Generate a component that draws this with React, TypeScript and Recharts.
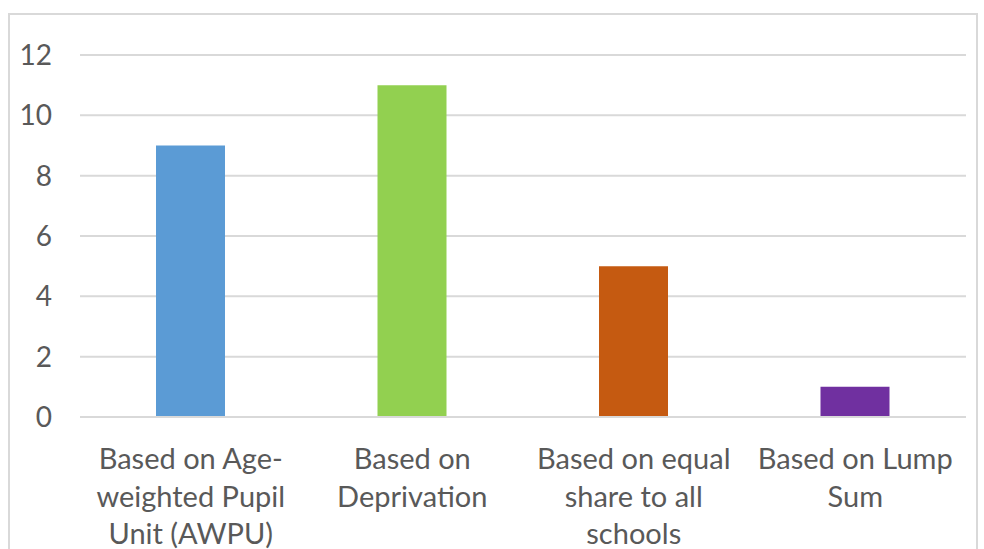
import { BarChart, Bar, XAxis, YAxis, CartesianGrid, Cell } from 'recharts';

const categories = [
  'Based on Age-weighted Pupil Unit (AWPU)',
  'Based on Deprivation',
  'Based on equal share to all schools',
  'Based on Lump Sum',
];
const labelLines = [
  ['Based on Age-', 'weighted Pupil', 'Unit (AWPU)'],
  ['Based on', 'Deprivation'],
  ['Based on equal', 'share to all', 'schools'],
  ['Based on Lump', 'Sum'],
];
const values = [9, 11, 5, 1];
const colors = ['#5B9BD5', '#92D050', '#C55A11', '#7030A0'];
const yTicks = [0, 2, 4, 6, 8, 10, 12];

const FONT = 'Lato, "Open Sans", sans-serif';
const TEXT = '#595959';

const data = categories.map((name, i) => ({ name, value: values[i] }));

function CategoryTick(props: any) {
  const { x, y, index } = props;
  const lines = labelLines[index] || [];
  return (
    <text x={x} y={y} textAnchor="middle" fill={TEXT} fontSize={29} fontFamily={FONT}>
      {lines.map((l, i) => (
        <tspan key={i} x={x} y={y + 44 + i * 37.5}>{l}</tspan>
      ))}
    </text>
  );
}

export default function App() {
  return (
    <div style={{ position: 'fixed', left: 0, top: 0, width: 984, height: 549, overflow: 'hidden', background: '#fff' }}>
      <div style={{ position: 'absolute', left: 8, top: 13, width: 966, height: 600, border: '2px solid #D9D9D9' }} />
      <div style={{ position: 'absolute', left: 0, top: 0 }}>
        <BarChart width={984} height={549} data={data} margin={{ top: 55, right: 18, left: 20, bottom: 0 }}
          barSize={69} style={{ overflow: 'visible' }}>
          <CartesianGrid stroke="#D9D9D9" strokeWidth={2} vertical={false} />
          <XAxis dataKey="name" axisLine={{ stroke: '#D9D9D9', strokeWidth: 2 }} tickLine={false} height={132}
            interval={0} tick={<CategoryTick />} />
          <YAxis domain={[0, 12]} ticks={yTicks} width={60} axisLine={false} tickLine={false}
            tick={{ fill: TEXT, fontSize: 28, fontFamily: FONT, dx: -20 }} />
          <Bar dataKey="value" isAnimationActive={false}>
            {data.map((d, i) => <Cell key={i} fill={colors[i]} />)}
          </Bar>
        </BarChart>
      </div>
    </div>
  );
}
